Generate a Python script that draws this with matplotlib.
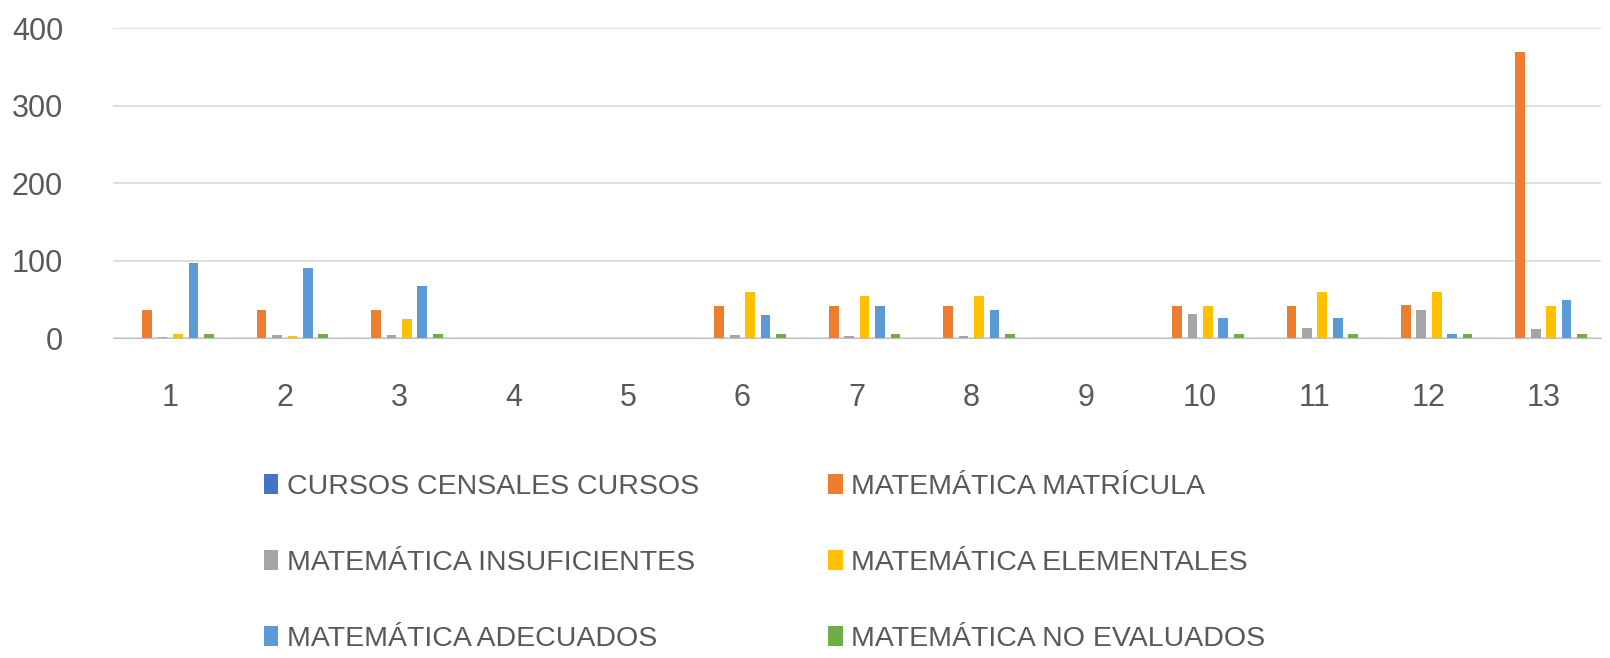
import numpy as np
import matplotlib.pyplot as plt

plt.rcParams['font.family'] = ['Liberation Sans', 'DejaVu Sans']

# categorías 1..13
categorias = [str(i) for i in range(1, 14)]

# valores
cursos = [0, 0, 0, 0, 0, 0, 0, 0, 0, 0, 0, 0, 0]
matricula = [37, 37, 37, 0, 0, 42, 42, 42, 0, 42, 42, 43, 370]
insuficientes = [2, 4, 4, 0, 0, 4, 3, 3, 0, 31, 13, 36, 12]
elementales = [5, 3, 25, 0, 0, 60, 54, 55, 0, 42, 60, 60, 42]
adecuados = [97, 90, 67, 0, 0, 30, 42, 36, 0, 26, 26, 5, 49]
no_evaluados = [6, 5, 6, 0, 0, 5, 5, 5, 0, 5, 5, 5, 5]

series = [cursos, matricula, insuficientes, elementales, adecuados, no_evaluados]
nombres = ['CURSOS CENSALES CURSOS', 'MATEMÁTICA MATRÍCULA',
           'MATEMÁTICA INSUFICIENTES', 'MATEMÁTICA ELEMENTALES',
           'MATEMÁTICA ADECUADOS', 'MATEMÁTICA NO EVALUADOS']
colores = ['#4472C4', '#ED7D31', '#A5A5A5', '#FFC000', '#5B9BD5', '#70AD47']

fig = plt.figure(figsize=(16.1, 6.58), dpi=100)
ax = fig.add_axes([0.0702, 0.486, 0.924, 0.471])

x = np.arange(len(categorias))
paso = 0.135
ancho = 0.085
barras = []
for i, (vals, nom, col) in enumerate(zip(series, nombres, colores)):
    barras.append(ax.bar(x + (i - 2.5) * paso, vals, width=ancho, color=col, label=nom))

ax.set_xlim(-0.5, len(categorias) - 0.5)
ax.set_ylim(0, 400)
ax.set_yticks([0, 100, 200, 300, 400])
ax.set_xticks(x)
ax.set_xticklabels(categorias)
ax.yaxis.grid(True, color='#D9D9D9', linewidth=1.2)
ax.set_axisbelow(True)
for s in ['top', 'right', 'left']:
    ax.spines[s].set_visible(False)
ax.spines['bottom'].set_color('#BFBFBF')
ax.tick_params(length=0, labelsize=22, colors='#595959')
ax.tick_params(axis='x', pad=32)
ax.tick_params(axis='y', pad=36)

# leyenda en orden por filas (2 columnas)
orden = [0, 2, 4, 1, 3, 5]
fig.legend([barras[i] for i in orden], [nombres[i] for i in orden],
           loc='upper left', bbox_to_anchor=(0.148, 0.318), ncol=2,
           frameon=False, fontsize=20.5, handlelength=0.5, handleheight=0.7,
           handletextpad=0.3, columnspacing=4.55, labelspacing=1.75,
           labelcolor='#595959')

fig.savefig('out.png', dpi=100, facecolor='white')
